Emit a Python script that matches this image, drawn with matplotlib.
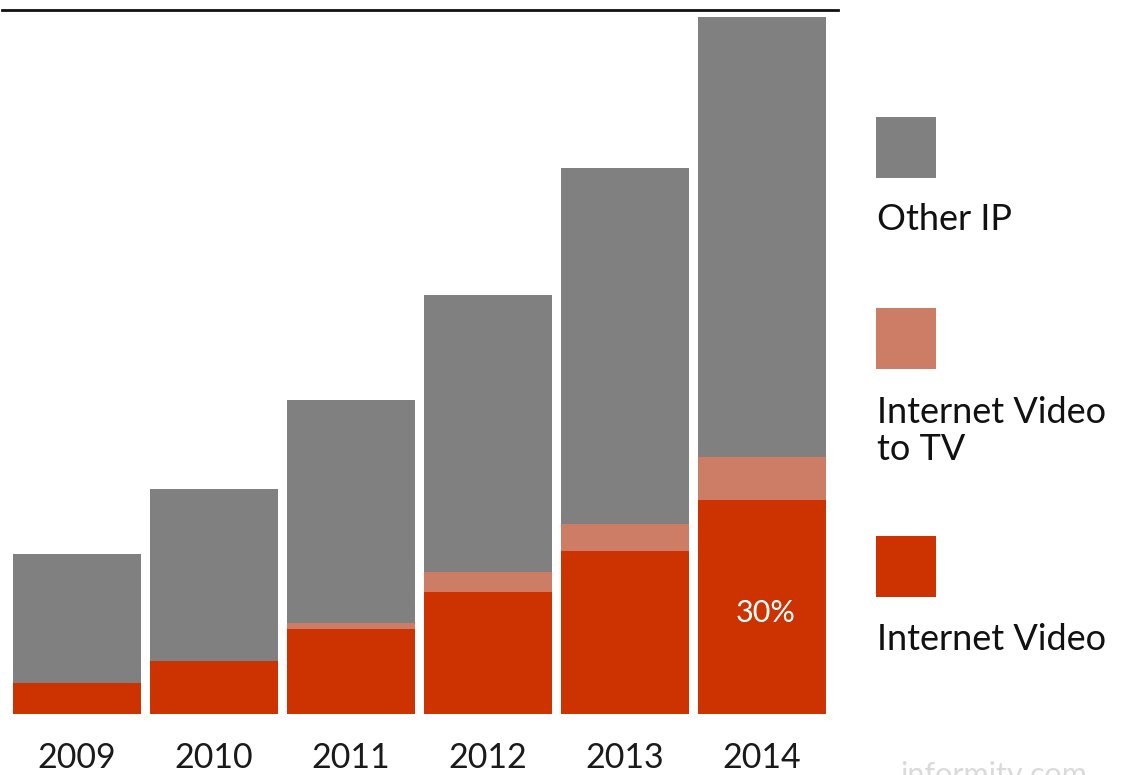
import matplotlib
matplotlib.use("Agg")
import matplotlib.pyplot as plt
from matplotlib.patches import Rectangle

# Monthly IP traffic by category (thousand PB / month)
years = ["2009", "2010", "2011", "2012", "2013", "2014"]
internet_video = [2.85, 4.9, 7.8, 11.2, 15.0, 19.7]
video_to_tv = [0.0, 0.0, 0.6, 1.8, 2.5, 3.9]
other_ip = [11.85, 15.8, 20.4, 25.5, 32.7, 40.4]
series_names = ["Other IP", "Internet Video\nto TV", "Internet Video"]

c_video = "#cc3300"
c_tv = "#cd7d65"
c_other = "#808080"

plt.rcParams["font.family"] = ["Lato", "DejaVu Sans"]

fig = plt.figure(figsize=(11.22, 7.75), dpi=100)
ax = fig.add_axes([2 / 1122, 61 / 775, 836 / 1122, 704 / 775])

x = list(range(len(years)))
w = 0.934
ax.bar(x, internet_video, width=w, color=c_video, linewidth=0)
ax.bar(x, video_to_tv, width=w, bottom=internet_video, color=c_tv, linewidth=0)
base2 = [a + b for a, b in zip(internet_video, video_to_tv)]
ax.bar(x, other_ip, width=w, bottom=base2, color=c_other, linewidth=0)

totals = [a + b for a, b in zip(base2, other_ip)]
ax.set_xlim(-0.547, 5.555)
ax.set_ylim(0, totals[-1] * 1.0105)

for s in ["left", "right", "bottom"]:
    ax.spines[s].set_visible(False)
ax.spines["top"].set_linewidth(2)
ax.spines["top"].set_color("#111111")
ax.set_yticks([])
ax.set_xticks(x)
ax.set_xticklabels(years, fontsize=24.5, color="#1a1a1a")
ax.tick_params(axis="x", length=0, pad=20)

# share of internet video in the last year
share = internet_video[-1] / totals[-1]
ax.text(x[-1] + 0.03, internet_video[-1] * 0.47, f"{int(share * 100)}%",
        color="white", fontsize=22, ha="center", va="center")

# legend drawn as blocks with labels underneath
legend_items = [(c_other, 117, 220, series_names[0]),
                (c_tv, 308, 431, series_names[1]),
                (c_video, 536, 640, series_names[2])]
for col, sq_top, txt_y, name in legend_items:
    fig.patches.append(Rectangle((876 / 1122, 1 - (sq_top + 61) / 775),
                                 60 / 1122, 61 / 775, color=col,
                                 transform=fig.transFigure, linewidth=0))
    fig.text(877 / 1122, 1 - txt_y / 775, name, fontsize=26, color="#111111",
             ha="left", va="center", linespacing=1.15)

fig.text(900 / 1122, -14 / 775, "informity.com", fontsize=22, color="#dadada",
         ha="left", va="bottom")

fig.savefig("out.png", dpi=100)
